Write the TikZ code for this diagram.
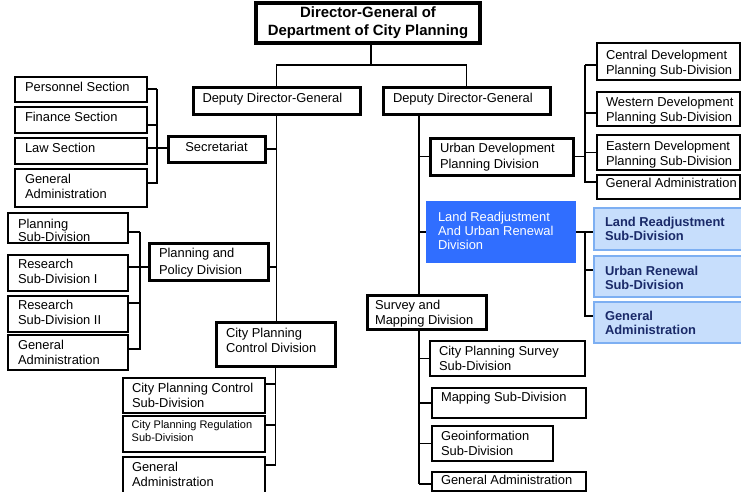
\documentclass[tikz,border=0pt]{standalone}
\usepackage{fontspec}
\setmainfont{Liberation Sans}
\usetikzlibrary{backgrounds}
\definecolor{lrblue}{RGB}{48,110,255}
\definecolor{lbfill}{RGB}{199,222,252}
\definecolor{lbdraw}{RGB}{125,175,242}
\definecolor{navytext}{RGB}{26,42,105}
\tikzset{
  obase/.style={anchor=north west, inner sep=0pt, outer sep=0pt, draw=black, fill=white,
    line width=1.1pt, font=\fontsize{12.9}{15}\selectfont},
  thickbox/.style={line width=3pt},
  lsp/.style={font=\fontsize{12.9}{#1}\selectfont},
  smallbox/.style={font=\fontsize{11}{13.3}\selectfont},
  lbbox/.style={fill=lbfill, draw=lbdraw, line width=1.4pt, text=navytext,
    font=\fontsize{12.9}{14}\selectfont\bfseries},
  bluebox/.style={fill=lrblue, draw=lrblue, text=white, font=\fontsize{12.9}{14.3}\selectfont},
  dgbox/.style={anchor=north west, inner sep=0pt, outer sep=0pt, draw=black, fill=white,
    line width=4pt, minimum width=224pt, minimum height=40pt, align=center,
    font=\fontsize{14.9}{18}\selectfont\bfseries},
  conn/.style={line width=1.15pt, draw=black},
}
% \obox[pad]{style}{name}{x1}{y1}{x2}{y2}{baseline offset}{text}
\newcommand\obox[9][9.5]{%
  \pgfmathsetmacro\obw{#6-#4}%
  \pgfmathsetmacro\obh{#7-#5}%
  \pgfmathsetmacro\obt{#8-10}%
  \node[obase,#2] (#3) at (#4,#5) {\parbox[c][\obh pt][t]{\obw pt}{\raggedright\leftskip=#1pt\relax
    \vspace*{\obt pt}\rule{0pt}{10pt}#9}};%
}
\begin{document}
\begin{tikzpicture}[x=1pt,y=-1pt]
\useasboundingbox (0,0) rectangle (741,492);

% top
\node[dgbox] (dg) at (256,3) {Director-General of\\Department of City Planning};
\obox[9.5]{thickbox}{ddgA}{193}{88}{360}{115}{14.5}{Deputy Director-General}
\obox[10]{thickbox}{ddgB}{383}{88}{550}{115}{14.5}{Deputy Director-General}

% secretariat group
\obox[10]{}{pers}{15}{77}{147}{102}{15}{Personnel Section}
\obox[10]{}{fin}{15}{107}{147}{133}{14.7}{Finance Section}
\obox[10]{}{law}{15}{138}{147}{164}{14}{Law Section}
\obox[10]{}{gaA}{15}{169}{147}{207}{14}{General\\Administration}
\obox{thickbox}{sec}{168}{136}{265}{162}{15.7}{\centering Secretariat}

% planning and policy group
\obox[10]{lsp=13.7}{plan}{8}{213}{128}{243}{15}{Planning\\Sub-Division}
\obox[10]{}{resA}{8}{255}{128}{291}{13}{Research\\Sub-Division I}
\obox[10]{}{resB}{8}{296}{128}{332}{13}{Research\\Sub-Division II}
\obox[10]{}{gaB}{8}{335}{128}{370}{14}{General\\Administration}
\obox[10]{thickbox,lsp=16.5}{ppd}{149}{243}{268}{280}{14.5}{Planning and\\Policy Division}

% city planning control group
\obox[10]{thickbox}{cpcd}{216}{322}{335}{366}{15}{City Planning\\Control Division}
\obox[9]{}{cpcs}{123}{378}{265}{413}{14.7}{City Planning Control\\Sub-Division}
\obox[8.7]{smallbox}{cprs}{123}{416}{265}{452}{12.5}{City Planning Regulation\\Sub-Division}
\obox[9]{}{gaC}{123}{457}{265}{496}{14.7}{General\\Administration}

% urban development group
\obox[10]{thickbox}{udpd}{430}{138}{573}{175}{15}{Urban Development\\Planning Division}
\obox[9]{}{cent}{597}{43}{740}{80}{17}{Central Development\\Planning Sub-Division}
\obox[9]{}{west}{597}{92}{740}{126}{14.7}{Western Development\\Planning Sub-Division}
\obox[9]{}{east}{597}{135}{740}{170}{15}{Eastern Development\\Planning Sub-Division}
\obox[8.5]{}{gaD}{597}{175}{740}{199}{12}{General Administration}

% land readjustment group
\obox[11]{bluebox}{lrurd}{427}{202}{575}{262}{19}{Land Readjustment\\And Urban Renewal\\Division}
\obox[11]{lbbox}{lrs}{594}{208}{746}{250}{18.7}{Land Readjustment\\Sub-Division}
\obox[11]{lbbox}{urs}{594}{256}{746}{297}{19}{Urban Renewal\\Sub-Division}
\obox[11]{lbbox}{gaE}{594}{302}{746}{343}{18.7}{General\\Administration}

% survey and mapping group
\obox[8]{thickbox,lsp=15.5}{surv}{367}{295}{486}{329}{14.3}{Survey and\\Mapping Division}
\obox[9]{}{cpss}{430}{341}{585}{376}{14}{City Planning Survey\\Sub-Division}
\obox[9]{}{maps}{432}{388}{586}{418}{13.7}{Mapping Sub-Division}
\obox[9]{}{geo}{432}{426}{553}{461}{14}{Geoinformation\\Sub-Division}
\obox[9]{}{gaF}{432}{472}{586}{491}{12.7}{General Administration}

% connectors
\begin{scope}[on background layer]
  \coordinate (top) at (371,65);
  \draw[conn] ([xshift=3pt]dg.south) -- (top);
  \draw[conn] (ddgA.north) |- (top) -| (ddgB.north);

  % left trunk
  \draw[conn] (ddgA.south) -- (ddgA.south |- cpcd.north);
  \draw[conn] (sec.east) -| (ddgA.south);
  \draw[conn] ([yshift=-24pt]ppd.north east) -| (ddgA.south);

  % secretariat bracket
  \coordinate (brS) at (157,89);
  \draw[conn] ([yshift=-12pt]pers.north east) -| (brS);
  \draw[conn] ([yshift=-18pt]fin.north east) -| (brS);
  \draw[conn] ([yshift=-10pt]law.north east) -| (brS);
  \draw[conn] ([yshift=-14pt]gaA.north east) -| (brS);
  \draw[conn] ([yshift=-12pt]sec.north west) -| (brS);

  % planning and policy bracket
  \coordinate (brP) at (140,232);
  \draw[conn] ([yshift=-19pt]plan.north east) -| (brP);
  \draw[conn] ([yshift=-12pt]resA.north east) -| (brP);
  \draw[conn] ([yshift=-7pt]resB.north east) -| (brP);
  \draw[conn] ([yshift=-14pt]gaB.north east) -| (brP);
  \draw[conn] ([yshift=-24pt]ppd.north west) -| (brP);

  % city planning control bracket
  \draw[conn] ([yshift=-6pt]cpcs.north east) -| (cpcd.south);
  \draw[conn] ([yshift=-9pt]cprs.north east) -| (cpcd.south);
  \draw[conn] ([yshift=-8pt]gaC.north east) -| (cpcd.south);

  % right trunk
  \coordinate (rtop) at ([xshift=36pt]ddgB.south west);
  \coordinate (rbot) at (419,484);
  \draw[conn] (rtop) -- (rbot);
  \draw[conn] (udpd.west) -| (rtop);
  \draw[conn] (lrurd.west) -| (rtop);
  \draw[conn] (cpss.west) -| (rbot);
  \draw[conn] (maps.west) -| (rbot);
  \draw[conn] (geo.west) -| (rbot);
  \draw[conn] ([yshift=-12pt]gaF.north west) -| (rbot);

  % urban development bracket
  \coordinate (brU) at (585,65);
  \draw[conn] ([yshift=-22pt]cent.north west) -| (brU);
  \draw[conn] ([yshift=-21pt]west.north west) -| (brU);
  \draw[conn] (east.west) -| (brU);
  \draw[conn] ([yshift=-7pt]gaD.north west) -| (brU);
  \draw[conn] (udpd.east) -| (brU);

  % land readjustment bracket
  \coordinate (brL) at (585,232);
  \draw[conn] ([yshift=-24pt]lrs.north west) -| (brL);
  \draw[conn] ([yshift=-14pt]urs.north west) -| (brL);
  \draw[conn] ([yshift=-14pt]gaE.north west) -| (brL);
  \draw[conn] (lrurd.east) -| (brL);
\end{scope}
\end{tikzpicture}
\end{document}
